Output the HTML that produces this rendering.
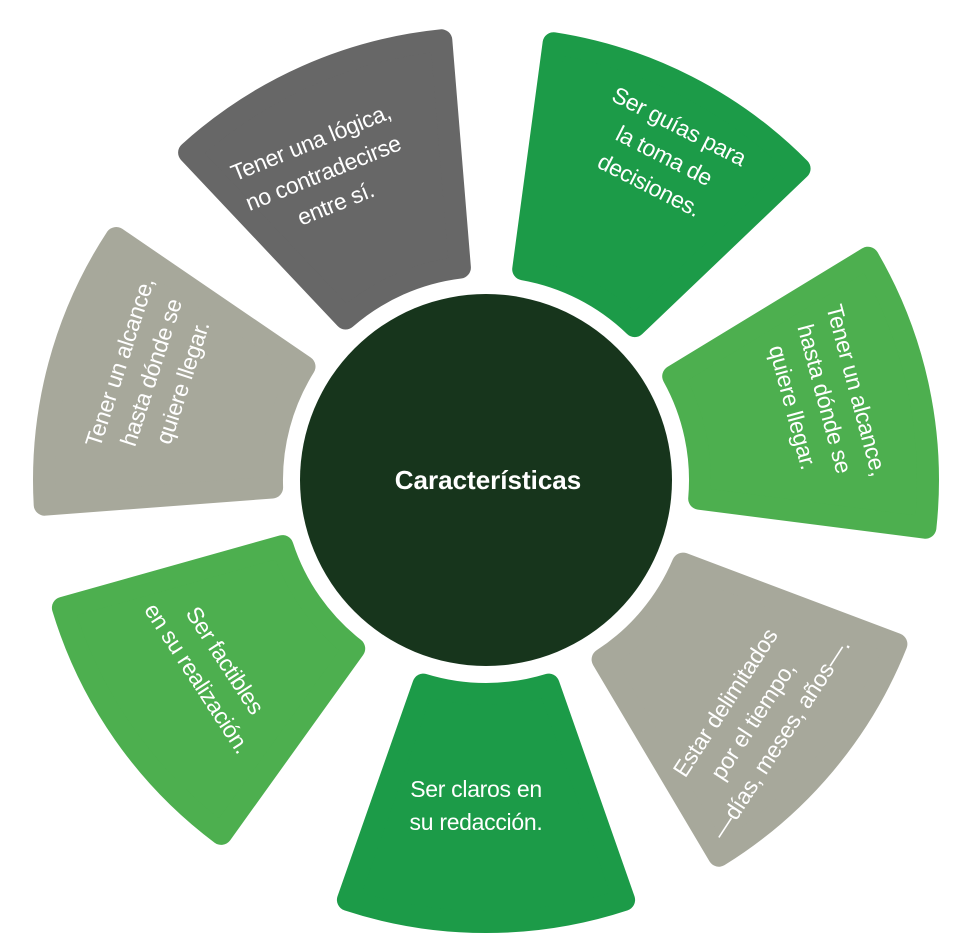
<!DOCTYPE html>
<html><head><meta charset="utf-8"><style>
html,body{margin:0;padding:0;background:#fff;}
svg{display:block}
text{font-family:"Liberation Sans",sans-serif;fill:#fff;font-size:23px;font-weight:300;letter-spacing:-0.3px}
</style></head><body>
<svg id="s" width="972" height="947" viewBox="0 0 972 947" xmlns="http://www.w3.org/2000/svg">
<g id="segs"></g>
<circle cx="486" cy="480" r="186" fill="#17351c"/>
<text x="488" y="489" text-anchor="middle" style="font-weight:bold;font-size:26px;letter-spacing:0">Características</text>

<g transform="translate(322,170) rotate(-22)" text-anchor="middle">
<text y="-22">Tener una lógica,</text><text y="11">no contradecirse</text><text y="44">entre sí.</text></g>

<g transform="translate(662,160) rotate(27)" text-anchor="middle">
<text y="-30">Ser guías para</text><text y="3">la toma de</text><text y="36">decisiones.</text></g>

<g transform="translate(820,400) rotate(75)" text-anchor="middle">
<text y="-30">Tener un alcance,</text><text y="3">hasta dónde se</text><text y="36">quiere llegar.</text></g>

<g transform="translate(752,720) rotate(-57)" text-anchor="middle">
<text y="-24">Estar delimitados</text><text y="9">por el tiempo,</text><text y="42">—días, meses, años—.</text></g>

<g transform="translate(476,805)" text-anchor="middle">
<text y="-8">Ser claros en</text><text y="25">su redacción.</text></g>

<g transform="translate(210,670) rotate(57)" text-anchor="middle">
<text y="-10">Ser factibles</text><text y="23">en su realización.</text></g>

<g transform="translate(150,372) rotate(-72)" text-anchor="middle">
<text y="-24">Tener un alcance,</text><text y="9">hasta dónde se</text><text y="42">quiere llegar.</text></g>
</svg>
<script>
var cx=486,cy=480,r1=214,r2=442,hw=19.5;
var order=[["#1c9b48",90],["#4daf4f",145],["#a7a89b",195],["#676767",246],["#1c9b48",297],["#4daf4f",348],["#a7a89b",40]];
var g=document.getElementById("segs"),h="";
function P(r,a){a=a*Math.PI/180;return (cx+r*Math.cos(a)).toFixed(1)+","+(cy+r*Math.sin(a)).toFixed(1);}
order.forEach(function(o){
 var a=o[1],ia=hw-2.5,oa=hw-1.3;
 var d="M"+P(r1,a-ia)+" A"+r1+","+r1+" 0 0 1 "+P(r1,a+ia)+" L"+P(r2,a+oa)+" A"+r2+","+r2+" 0 0 0 "+P(r2,a-oa)+" Z";
 h+='<path d="'+d+'" fill="'+o[0]+'" stroke="'+o[0]+'" stroke-width="22" stroke-linejoin="round"/>';
});
g.innerHTML=h;
</script>
</body></html>
